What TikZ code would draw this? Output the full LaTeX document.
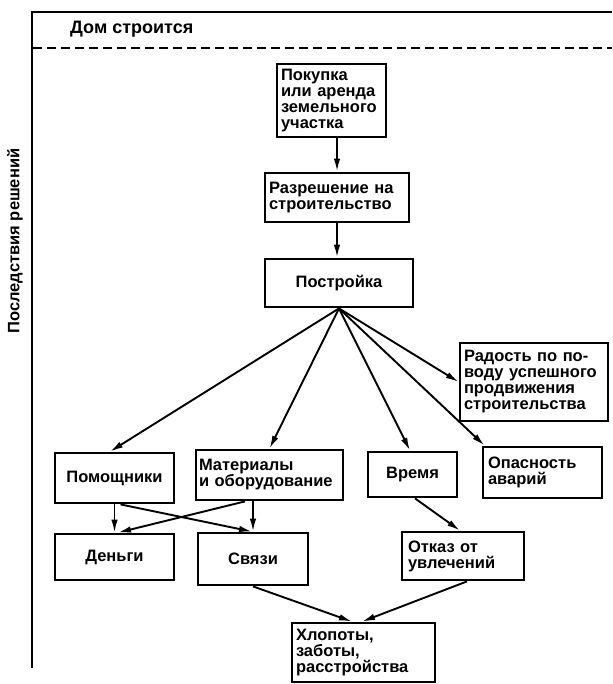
\documentclass[tikz,border=0pt]{standalone}
\usepackage{fontspec}
\setmainfont{Liberation Sans}
\usetikzlibrary{arrows.meta}
\newcommand\boxfnt{\fontsize{16.5}{16}\selectfont\bfseries}
\newcommand\titlefnt{\fontsize{18}{18}\selectfont\bfseries}
\tikzset{
  box/.style={draw, line width=2.8pt, inner sep=0pt, font=\boxfnt},
  lbox/.style={box, align=left},
  cbox/.style={box, align=center},
  arr/.style={line width=1.9pt, -{Latex[length=13pt,width=6.5pt]}},
  frame/.style={line width=2.2pt},
}
\begin{document}
\begin{tikzpicture}[x=1pt,y=-1pt]
\useasboundingbox (0,0) rectangle (612,684);
% frame
\coordinate (tl) at (32,12);
\coordinate (tr) at (612,12);
\coordinate (bl) at (33,668);
\coordinate (dl) at (33,48);
\coordinate (dr) at (612,48);
\draw[frame] (tr) -- (tl) -- (tl |- bl);
\draw[frame, dash pattern=on 9pt off 5pt] (dl) -- (dr);
\node[anchor=west, font=\titlefnt, inner sep=0pt] (title) at (70,29) {Дом строится};
\node[rotate=90, font=\boxfnt, inner sep=0pt] (side) at (15,241) {Последствия решений};
% boxes
\node[lbox, minimum width=109pt, minimum height=73pt, text width=101pt] (pok) at (331.5,100.5)
  {Покупка\\или аренда\\земельного\\участка};
\node[lbox, minimum width=144pt, minimum height=49pt, text width=136pt] (raz) at (337,197.5)
  {Разрешение на\\строительство};
\node[cbox, minimum width=148pt, minimum height=48pt] (pos) at (339,283) {Постройка};
\node[lbox, minimum width=148pt, minimum height=78pt, text width=140pt] (rad) at (534,382)
  {Радость по по-\\воду успешного\\продвижения\\строительства};
\node[cbox, minimum width=119pt, minimum height=50pt] (pom) at (114.5,478) {Помощники};
\node[lbox, minimum width=147pt, minimum height=50pt, text width=141pt] (mat) at (269.5,475)
  {Материалы\\и оборудование};
\node[cbox, minimum width=89pt, minimum height=45pt] (vre) at (412.5,474.5) {Время};
\node[lbox, minimum width=119pt, minimum height=51pt, text width=109pt] (opa) at (542.5,472.5)
  {Опасность\\аварий};
\node[cbox, minimum width=119pt, minimum height=46pt] (den) at (114.5,557) {Деньги};
\node[cbox, minimum width=110pt, minimum height=52pt] (svy) at (253,559) {Связи};
\node[lbox, minimum width=122pt, minimum height=48pt, text width=110pt] (otk) at (463,556)
  {Отказ от\\увлечений};
\node[lbox, minimum width=143pt, minimum height=59pt, text width=135pt] (hlo) at (363.5,652.5)
  {Хлопоты,\\заботы,\\расстройства};
% arrows
\draw[arr] (pok.south -| raz.north) -- (raz.north);
\draw[arr] (raz.south) -- (raz.south |- pos.north);
\draw[arr] (pos.south) -- ([xshift=-4.5pt]pom.north);
\draw[arr] (pos.south) -- (mat.north);
\draw[arr] (pos.south) -- ([xshift=-2.5pt]vre.north);
\draw[arr] (pos.south) -- ([xshift=3pt]opa.north west);
\draw[arr] (pos.south) -- (rad.west);
\draw[arr] (pom.south) -- (den.north);
\draw[arr] ([xshift=6pt]pom.south) -- ([xshift=-1pt]svy.north);
\draw[arr] ([xshift=-24.5pt]mat.south) -- ([xshift=3.5pt]den.north);
\draw[arr] (svy.north |- mat.south) -- (svy.north);
\draw[arr] ([xshift=2.5pt]vre.south) -- ([xshift=-3pt]otk.north);
\draw[arr] (svy.south) -- ([xshift=-11.5pt]hlo.north);
\draw[arr] ([xshift=4pt]otk.south) -- ([xshift=-1.5pt]hlo.north);
\end{tikzpicture}
\end{document}
